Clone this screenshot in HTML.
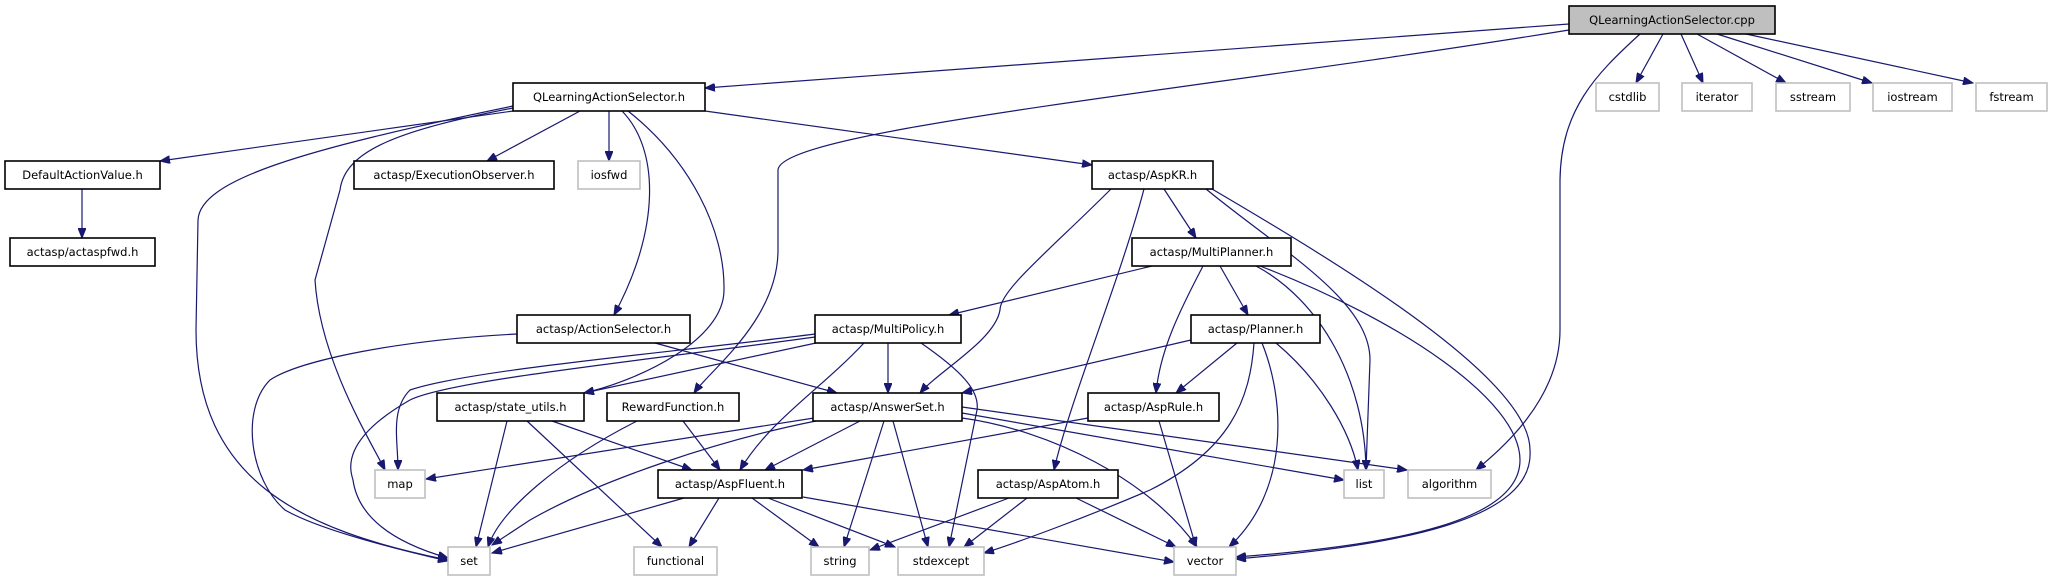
<!DOCTYPE html>
<html><head><meta charset="utf-8"><style>
html,body{margin:0;padding:0;background:#fff;}
svg{display:block;}
text{font-family:"DejaVu Sans","Liberation Sans",sans-serif;font-size:11.5px;fill:#000;text-anchor:middle;dominant-baseline:central;}
.n{fill:#fff;stroke:#000;stroke-width:1.6;}
.g{fill:#fff;stroke:#bfbfbf;stroke-width:1.6;}
.e{fill:none;stroke:#191970;stroke-width:1.2;marker-end:url(#a);}
</style></head><body>
<svg width="2053" height="581" viewBox="0 0 2053 581" xmlns="http://www.w3.org/2000/svg">
<defs><marker id="a" markerUnits="userSpaceOnUse" markerWidth="11" markerHeight="8" refX="10" refY="4" orient="auto"><path d="M0,0 L10,4 L0,8 z" fill="#191970" stroke="#191970"/></marker></defs>

<path class="e" d="M1569,24 L705,88"/>
<path class="e" d="M1569,30 C1200,90 780,130 778,170 L778,250 C778,320 710,370 694,393"/>
<path class="e" d="M1663,34 L1636,83"/>
<path class="e" d="M1681,34 L1703,83"/>
<path class="e" d="M1697,34 L1786,83"/>
<path class="e" d="M1717,34 L1872,83"/>
<path class="e" d="M1746,34 L1973,83"/>
<path class="e" d="M1640,34 C1595,75 1561,110 1560,180 L1560,330 C1560,400 1500,450 1476,470"/>

<path class="e" d="M513,111 L160,161"/>
<path class="e" d="M580,111 L487,161"/>
<path class="e" d="M609,111 L609,161"/>
<path class="e" d="M705,111 L1092,165"/>
<path class="e" d="M622,111 C660,150 660,230 614,315"/>
<path class="e" d="M628,111 C690,160 725,230 724,290 C724,340 640,380 584,393"/>
<path class="e" d="M513,108 C400,130 345,150 340,190 L315,280 C320,360 370,440 385,470"/>
<path class="e" d="M513,106 C300,150 200,180 198,220 L196,330 C196,480 300,530 448,560"/>
<path class="e" d="M82,189 L82,238"/>

<path class="e" d="M1164,189 L1196,238"/>
<path class="e" d="M1144,189 C1120,280 1070,400 1054,470"/>
<path class="e" d="M1111,189 C1050,250 1000,290 1000,310 C995,340 940,370 920,393"/>
<path class="e" d="M1206,189 C1280,250 1370,300 1370,360 L1366,470"/>
<path class="e" d="M1212,189 C1350,270 1530,380 1530,450 C1535,520 1400,545 1236,559"/>

<path class="e" d="M1152,266 L949,315"/>
<path class="e" d="M1203,266 C1180,310 1160,350 1156,393"/>
<path class="e" d="M1220,266 L1248,315"/>
<path class="e" d="M1256,266 C1320,300 1365,380 1366,470"/>
<path class="e" d="M1260,266 C1400,320 1520,400 1520,460 C1520,520 1400,545 1236,557"/>

<path class="e" d="M816,343 L584,393"/>
<path class="e" d="M888,343 L888,393"/>
<path class="e" d="M864,343 C820,390 770,420 740,470"/>
<path class="e" d="M921,343 C960,370 980,390 977,410 L949,547"/>
<path class="e" d="M815,334 C650,355 470,370 410,390 C390,410 398,440 398,470"/>
<path class="e" d="M815,337 C650,360 450,380 410,400 C340,440 350,470 353,480 C360,530 420,550 448,558"/>

<path class="e" d="M517,334 C400,340 300,360 270,380 C240,410 250,480 285,510 C320,530 400,550 448,561"/>
<path class="e" d="M655,343 L837,393"/>

<path class="e" d="M1191,340 L962,393"/>
<path class="e" d="M1237,343 L1176,393"/>
<path class="e" d="M1276,343 C1320,380 1350,430 1358,470"/>
<path class="e" d="M1262,343 C1285,400 1290,490 1229,547"/>
<path class="e" d="M1254,343 C1250,400 1230,450 1150,490 C1080,520 1010,545 984,553"/>

<path class="e" d="M507,421 L476,547"/>
<path class="e" d="M527,421 L662,547"/>
<path class="e" d="M552,421 L692,470"/>
<path class="e" d="M637,421 C560,460 500,510 488,547"/>
<path class="e" d="M683,421 L720,470"/>

<path class="e" d="M814,418 L426,479"/>
<path class="e" d="M816,421 C720,440 600,480 530,520 L492,545"/>
<path class="e" d="M860,421 L765,470"/>
<path class="e" d="M884,421 L844,547"/>
<path class="e" d="M893,421 L928,547"/>
<path class="e" d="M962,418 C1050,430 1150,480 1197,547"/>
<path class="e" d="M962,413 L1344,480"/>
<path class="e" d="M962,407 L1407,470"/>

<path class="e" d="M1088,418 L803,470"/>
<path class="e" d="M1159,421 L1196,547"/>
<path class="e" d="M1009,498 L870,550"/>
<path class="e" d="M1027,498 L964,547"/>
<path class="e" d="M1076,498 L1176,547"/>

<path class="e" d="M684,498 L492,553"/>
<path class="e" d="M719,498 L689,547"/>
<path class="e" d="M752,498 L819,547"/>
<path class="e" d="M768,498 L895,547"/>
<path class="e" d="M803,497 L1174,562"/>

<rect x="1569" y="6" width="206" height="28" fill="#bfbfbf" stroke="#000" stroke-width="1.6"/><text x="1672" y="20">QLearningActionSelector.cpp</text>
<rect class="n" x="513" y="83" width="192" height="28"/><text x="609" y="97">QLearningActionSelector.h</text>
<rect class="g" x="1596" y="83" width="63" height="28"/><text x="1627.5" y="97">cstdlib</text>
<rect class="g" x="1682" y="83" width="70" height="28"/><text x="1717" y="97">iterator</text>
<rect class="g" x="1776" y="83" width="74" height="28"/><text x="1813" y="97">sstream</text>
<rect class="g" x="1873" y="83" width="79" height="28"/><text x="1912.5" y="97">iostream</text>
<rect class="g" x="1976" y="83" width="71" height="28"/><text x="2011.5" y="97">fstream</text>
<rect class="n" x="5" y="161" width="155" height="28"/><text x="82.5" y="175">DefaultActionValue.h</text>
<rect class="n" x="354" y="161" width="200" height="28"/><text x="454" y="175">actasp/ExecutionObserver.h</text>
<rect class="g" x="578" y="161" width="62" height="28"/><text x="609" y="175">iosfwd</text>
<rect class="n" x="1092" y="161" width="121" height="28"/><text x="1152.5" y="175">actasp/AspKR.h</text>
<rect class="n" x="10" y="238" width="145" height="28"/><text x="82.5" y="252">actasp/actaspfwd.h</text>
<rect class="n" x="1132" y="238" width="159" height="28"/><text x="1211.5" y="252">actasp/MultiPlanner.h</text>
<rect class="n" x="517" y="315" width="173" height="28"/><text x="603.5" y="329">actasp/ActionSelector.h</text>
<rect class="n" x="815" y="315" width="146" height="28"/><text x="888" y="329">actasp/MultiPolicy.h</text>
<rect class="n" x="1191" y="315" width="129" height="28"/><text x="1255.5" y="329">actasp/Planner.h</text>
<rect class="n" x="437" y="393" width="147" height="28"/><text x="510.5" y="407">actasp/state_utils.h</text>
<rect class="n" x="607" y="393" width="132" height="28"/><text x="673" y="407">RewardFunction.h</text>
<rect class="n" x="813" y="393" width="149" height="28"/><text x="887.5" y="407">actasp/AnswerSet.h</text>
<rect class="n" x="1088" y="393" width="131" height="28"/><text x="1153.5" y="407">actasp/AspRule.h</text>
<rect class="g" x="375" y="470" width="50" height="28"/><text x="400" y="484">map</text>
<rect class="n" x="658" y="470" width="144" height="28"/><text x="730" y="484">actasp/AspFluent.h</text>
<rect class="n" x="978" y="470" width="140" height="28"/><text x="1048" y="484">actasp/AspAtom.h</text>
<rect class="g" x="1344" y="470" width="40" height="28"/><text x="1364" y="484">list</text>
<rect class="g" x="1408" y="470" width="83" height="28"/><text x="1449.5" y="484">algorithm</text>
<rect class="g" x="448" y="547" width="42" height="28"/><text x="469" y="561">set</text>
<rect class="g" x="634" y="547" width="83" height="28"/><text x="675.5" y="561">functional</text>
<rect class="g" x="811" y="547" width="58" height="28"/><text x="840" y="561">string</text>
<rect class="g" x="898" y="547" width="86" height="28"/><text x="941" y="561">stdexcept</text>
<rect class="g" x="1174" y="547" width="62" height="28"/><text x="1205" y="561">vector</text>
</svg>
</body></html>
